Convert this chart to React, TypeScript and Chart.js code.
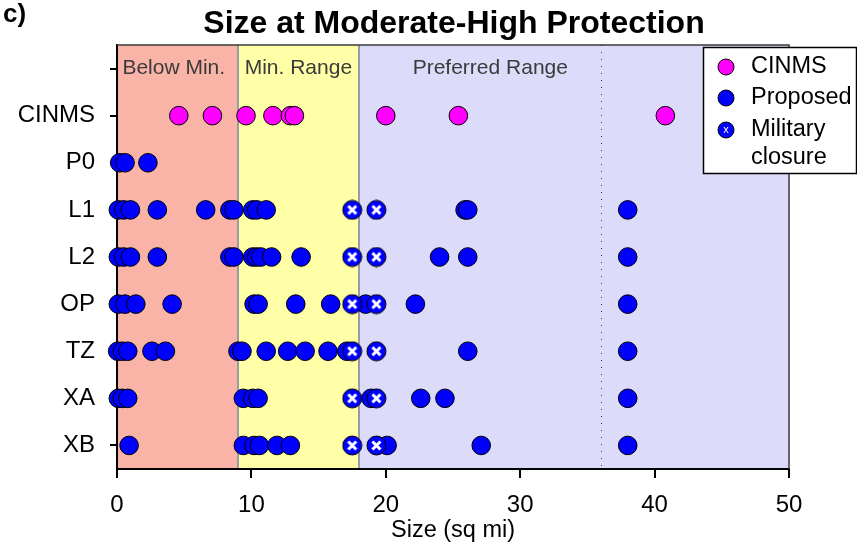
import React, { useEffect, useRef } from 'react';
import { Chart, registerables } from 'chart.js';
Chart.register(...registerables);

// Row labels indexed by y value (0..9); row 9 is a blank top row
const rowLabels = ['', 'XB', 'XA', 'TZ', 'OP', 'L2', 'L1', 'P0', 'CINMS', ''];
const xTickValues = [0, 10, 20, 30, 40, 50];

// Sizes (sq mi)
const cinmsSizes = [4.6, 7.1, 9.6, 11.6, 12.9, 13.2, 20.0, 25.4, 40.8];
const p0Proposed = [0.2, 0.6, 2.3];
const l1Proposed = [0.1, 0.5, 1.0, 3.0, 6.6, 8.4, 8.7, 10.1, 10.4, 11.1, 25.9, 26.1, 38.0];
const l1Military = [17.5, 19.3];
const l2Proposed = [0.1, 0.5, 1.0, 3.0, 8.4, 8.7, 10.1, 10.4, 10.7, 11.5, 13.7, 24.0, 26.1, 38.0];
const l2Military = [17.5, 19.3];
const opProposed = [0.1, 0.6, 1.4, 4.1, 10.2, 10.5, 13.3, 15.9, 18.5, 22.2, 38.0];
const opMilitary = [17.5, 19.3];
const tzProposed = [0.05, 0.4, 0.8, 2.6, 3.6, 9.0, 9.3, 11.1, 12.7, 14.0, 15.7, 17.1, 26.1, 38.0];
const tzMilitary = [17.5, 19.3];
const xaProposed = [0.1, 0.4, 0.8, 9.4, 10.1, 10.5, 18.9, 22.6, 24.4, 38.0];
const xaMilitary = [17.5, 19.3];
const xbProposed = [0.9, 9.4, 10.2, 10.6, 11.9, 12.9, 20.1, 27.1, 38.0];
const xbMilitary = [17.5, 19.3];

// Range bands
const bandEdges = [0, 9, 18, 50];
const bandNames = ['Below Min.', 'Min. Range', 'Preferred Range'];
const bandLabelStarts = [0.4, 9.5, 22.0];
const dottedLineAt = 36;

const FONT = '"Liberation Sans", Arial, Helvetica, sans-serif';
const BAND_COLORS = ['#F9B4A7', '#FFFFA8', '#DCDCFA'];

function row(name: string) {
  return rowLabels.indexOf(name);
}
function pts(values: number[], r: number) {
  return values.map((x) => ({ x, y: r }));
}

function makeMilitaryMarker(r: number) {
  const c = document.createElement('canvas');
  const s = Math.ceil(2 * r + 2);
  c.width = s;
  c.height = s;
  const g = c.getContext('2d')!;
  g.beginPath();
  g.arc(s / 2, s / 2, r, 0, Math.PI * 2);
  g.fillStyle = '#0000FF';
  g.fill();
  g.lineWidth = 1;
  g.strokeStyle = '#000';
  g.stroke();
  g.strokeStyle = '#FFFFFF';
  g.lineWidth = 3;
  g.lineCap = 'butt';
  const d = r * 0.42;
  g.beginPath();
  g.moveTo(s / 2 - d, s / 2 - d);
  g.lineTo(s / 2 + d, s / 2 + d);
  g.moveTo(s / 2 + d, s / 2 - d);
  g.lineTo(s / 2 - d, s / 2 + d);
  g.stroke();
  return c;
}

const decorPlugin = {
  id: 'decor',
  beforeDraw(chart: any) {
    const { ctx, chartArea: a, scales } = chart;
    const xs = scales.x;
    ctx.save();
    for (let i = 0; i < 3; i++) {
      const x0 = xs.getPixelForValue(bandEdges[i]);
      const x1 = xs.getPixelForValue(bandEdges[i + 1]);
      ctx.fillStyle = BAND_COLORS[i];
      ctx.fillRect(x0, a.top, x1 - x0, a.bottom - a.top);
    }
    ctx.strokeStyle = '#9A9AA6';
    ctx.lineWidth = 2;
    [bandEdges[1], bandEdges[2]].forEach((v) => {
      const x = Math.round(xs.getPixelForValue(v));
      ctx.beginPath();
      ctx.moveTo(x, a.top);
      ctx.lineTo(x, a.bottom);
      ctx.stroke();
    });
    // dotted line
    const xd = Math.round(xs.getPixelForValue(dottedLineAt)) + 0.5;
    ctx.strokeStyle = '#333';
    ctx.lineWidth = 1;
    ctx.setLineDash([1, 6]);
    ctx.beginPath();
    ctx.moveTo(xd, a.top);
    ctx.lineTo(xd, a.bottom);
    ctx.stroke();
    ctx.setLineDash([]);
    // band labels
    ctx.fillStyle = '#3A3A3A';
    ctx.font = `21px ${FONT}`;
    ctx.textAlign = 'left';
    ctx.textBaseline = 'middle';
    bandNames.forEach((n, i) => {
      ctx.fillText(n, xs.getPixelForValue(bandLabelStarts[i]), 68);
    });
    ctx.restore();
  },
  afterDraw(chart: any) {
    const { ctx, chartArea: a } = chart;
    ctx.save();
    // top and right frame
    ctx.strokeStyle = '#3A3A3A';
    ctx.lineWidth = 1.5;
    ctx.beginPath();
    ctx.moveTo(a.left, a.top);
    ctx.lineTo(a.right, a.top);
    ctx.lineTo(a.right, a.bottom);
    ctx.stroke();
    // title
    ctx.fillStyle = '#000';
    ctx.font = `bold 32px ${FONT}`;
    ctx.textAlign = 'center';
    ctx.textBaseline = 'alphabetic';
    ctx.fillText('Size at Moderate-High Protection', 454, 33);
    ctx.textAlign = 'left';
    ctx.font = `bold 26px ${FONT}`;
    ctx.fillText('c)', 3, 22);
    // legend
    const lx = 703, ly = 47, lw = 154, lh = 127;
    ctx.fillStyle = '#FFFFFF';
    ctx.fillRect(lx, ly, lw, lh);
    ctx.strokeStyle = '#000';
    ctx.lineWidth = 1.5;
    ctx.strokeRect(lx + 0.5, ly + 0.5, lw - 1, lh - 1);
    const mx = 726;
    const items = [
      { label: ['CINMS'], color: '#FF00FF', y: 67, x: false },
      { label: ['Proposed'], color: '#0000FF', y: 98, x: false },
      { label: ['Military', 'closure'], color: '#0000FF', y: 130, x: true },
    ];
    items.forEach((it) => {
      ctx.beginPath();
      ctx.arc(mx, it.y, 8, 0, Math.PI * 2);
      ctx.fillStyle = it.color;
      ctx.fill();
      ctx.lineWidth = 1;
      ctx.strokeStyle = '#000';
      ctx.stroke();
      if (it.x) {
        ctx.fillStyle = '#FFFFFF';
        ctx.font = `11px ${FONT}`;
        ctx.textAlign = 'center';
        ctx.textBaseline = 'middle';
        ctx.fillText('x', mx, it.y);
      }
      ctx.fillStyle = '#000';
      ctx.font = `23.5px ${FONT}`;
      ctx.textAlign = 'left';
      ctx.textBaseline = 'middle';
      it.label.forEach((t, k) => ctx.fillText(t, 751, it.y + k * 28));
    });
    ctx.restore();
  },
};

export default function App() {
  const ref = useRef<HTMLCanvasElement>(null);
  useEffect(() => {
    const canvas = ref.current!;
    const militaryMarker = makeMilitaryMarker(9.5);
    const proposedData = [
      ...pts(p0Proposed, row('P0')),
      ...pts(l1Proposed, row('L1')),
      ...pts(l2Proposed, row('L2')),
      ...pts(opProposed, row('OP')),
      ...pts(tzProposed, row('TZ')),
      ...pts(xaProposed, row('XA')),
      ...pts(xbProposed, row('XB')),
    ];
    const militaryData = [
      ...pts(l1Military, row('L1')),
      ...pts(l2Military, row('L2')),
      ...pts(opMilitary, row('OP')),
      ...pts(tzMilitary, row('TZ')),
      ...pts(xaMilitary, row('XA')),
      ...pts(xbMilitary, row('XB')),
    ];
    const chart = new Chart(canvas, {
      type: 'scatter',
      data: {
        datasets: [
          {
            label: 'CINMS',
            data: pts(cinmsSizes, row('CINMS')),
            backgroundColor: '#FF00FF',
            borderColor: '#000',
            borderWidth: 1,
            pointRadius: 9.3,
            clip: false,
            order: 2,
          },
          {
            label: 'Proposed',
            data: proposedData,
            backgroundColor: '#0000FF',
            borderColor: '#000',
            borderWidth: 1,
            pointRadius: 9.3,
            clip: false,
            order: 1,
          },
          {
            label: 'Military closure',
            data: militaryData,
            pointStyle: militaryMarker as any,
            backgroundColor: '#0000FF',
            borderColor: '#000',
            pointRadius: 9.5,
            clip: false,
            order: 0,
          },
        ] as any,
      },
      options: {
        responsive: false,
        animation: false,
        devicePixelRatio: 1,
        layout: { padding: { top: 45, right: 68, left: 0, bottom: 0 } },
        plugins: { legend: { display: false }, tooltip: { enabled: false }, title: { display: false } },
        scales: {
          x: {
            type: 'linear',
            min: 0,
            max: 50,
            afterFit: (s: any) => {
              s.height = 82;
            },
            afterBuildTicks: (s: any) => {
              s.ticks = xTickValues.map((v) => ({ value: v }));
            },
            grid: { drawOnChartArea: false, drawTicks: true, tickLength: 9, color: '#000', lineWidth: 2 },
            border: { display: true, color: '#000', width: 2 },
            ticks: { color: '#000', font: { family: FONT, size: 24 }, padding: 13, maxRotation: 0 },
            title: {
              display: true,
              text: 'Size (sq mi)',
              color: '#000',
              font: { family: FONT, size: 23.5 },
              padding: { top: 0, bottom: 6 },
            },
          },
          y: {
            type: 'linear',
            min: 0.5,
            max: 9.5,
            afterFit: (s: any) => {
              s.width = 117;
            },
            afterBuildTicks: (s: any) => {
              s.ticks = [1, 2, 3, 4, 5, 6, 7, 8, 9].map((v) => ({ value: v }));
            },
            grid: { drawOnChartArea: false, drawTicks: true, tickLength: 7, color: '#000', lineWidth: 2 },
            border: { display: true, color: '#000', width: 2 },
            ticks: {
              color: '#000',
              font: { family: FONT, size: 24 },
              padding: 15,
              callback: (v: any) => rowLabels[Math.round(Number(v))] ?? '',
            },
          },
        },
      } as any,
      plugins: [decorPlugin],
    });
    return () => chart.destroy();
  }, []);
  return (
    <div style={{ position: 'absolute', left: 0, top: 0, width: 857, height: 551, background: '#fff' }}>
      <canvas ref={ref} width={857} height={551} style={{ width: 857, height: 551, display: 'block' }} />
    </div>
  );
}
